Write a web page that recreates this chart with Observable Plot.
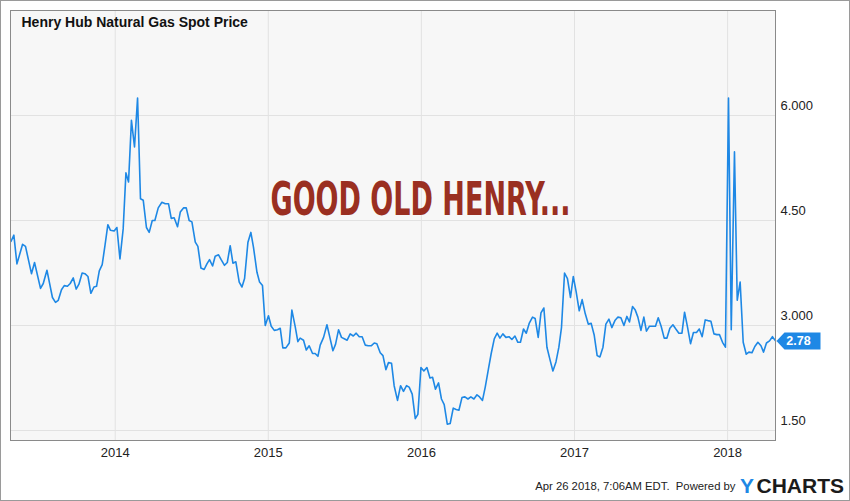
<!DOCTYPE html>
<html>
<head>
<meta charset="utf-8">
<script src="https://cdn.jsdelivr.net/npm/d3@7"></script>
<script src="https://cdn.jsdelivr.net/npm/@observablehq/plot@0.6"></script>
<style>
  html, body { margin: 0; padding: 0; background: #fff; }
  #wrap { position: relative; width: 850px; height: 501px; overflow: hidden; }
  #border { position: absolute; left: 0; top: 0; width: 850px; height: 501px; box-sizing: border-box; border: 1px solid #9a9a9a; pointer-events: none; }
</style>
</head>
<body>
<div id="wrap"><div id="border"></div></div>
<script>
const years = [
  2013.319, 2013.338, 2013.358, 2013.395, 2013.414, 2013.453, 2013.473, 2013.512, 2013.530, 2013.554,
  2013.590, 2013.610, 2013.628, 2013.649, 2013.667, 2013.688, 2013.706, 2013.726, 2013.745, 2013.763,
  2013.784, 2013.802, 2013.822, 2013.841, 2013.861, 2013.878, 2013.896, 2013.915, 2013.933, 2013.952,
  2013.969, 2013.993, 2014.011, 2014.031, 2014.052, 2014.070, 2014.087, 2014.106, 2014.126, 2014.146,
  2014.165, 2014.183, 2014.204, 2014.222, 2014.242, 2014.259, 2014.281, 2014.305,
  2014.327, 2014.348, 2014.366, 2014.385, 2014.407, 2014.425, 2014.446, 2014.464, 2014.483, 2014.501,
  2014.523, 2014.540, 2014.560, 2014.581, 2014.599, 2014.616, 2014.636, 2014.653, 2014.675, 2014.692,
  2014.714, 2014.732, 2014.751, 2014.769, 2014.788, 2014.810, 2014.828, 2014.845, 2014.867, 2014.886,
  2014.903, 2014.926, 2014.943, 2014.962, 2014.980, 2015.001, 2015.019, 2015.039, 2015.060, 2015.078,
  2015.095, 2015.115, 2015.137, 2015.154, 2015.176, 2015.193, 2015.208, 2015.230, 2015.248, 2015.267,
  2015.289, 2015.306, 2015.324,
  2015.339, 2015.361, 2015.383, 2015.402, 2015.422, 2015.439, 2015.459, 2015.478, 2015.496, 2015.515,
  2015.535, 2015.555, 2015.574, 2015.594, 2015.613, 2015.633, 2015.653, 2015.672, 2015.692, 2015.709,
  2015.731, 2015.749, 2015.768, 2015.785, 2015.805, 2015.822, 2015.844, 2015.864, 2015.883, 2015.903,
  2015.920, 2015.940, 2015.960, 2015.977, 2015.997, 2016.016, 2016.036, 2016.056, 2016.073, 2016.092,
  2016.112, 2016.131, 2016.149, 2016.169, 2016.188, 2016.208, 2016.227, 2016.245, 2016.265, 2016.284,
  2016.304, 2016.323, 2016.343, 2016.363, 2016.380, 2016.399,
  2016.417, 2016.438, 2016.456, 2016.476, 2016.495, 2016.513, 2016.532, 2016.552, 2016.572, 2016.591,
  2016.611, 2016.630, 2016.647, 2016.667, 2016.685, 2016.704, 2016.726, 2016.743, 2016.763, 2016.781,
  2016.800, 2016.820, 2016.839, 2016.859, 2016.879, 2016.898, 2016.915, 2016.935, 2016.954, 2016.974,
  2016.992, 2017.011, 2017.031, 2017.050, 2017.070, 2017.090, 2017.109, 2017.129, 2017.148, 2017.166,
  2017.186, 2017.205, 2017.225, 2017.244, 2017.264, 2017.284, 2017.303, 2017.323, 2017.342, 2017.359,
  2017.379, 2017.397, 2017.414, 2017.434, 2017.453, 2017.470, 2017.490, 2017.510, 2017.529, 2017.547,
  2017.566, 2017.586, 2017.604, 2017.623, 2017.643, 2017.662, 2017.682, 2017.702, 2017.719, 2017.738,
  2017.758, 2017.777, 2017.797, 2017.815, 2017.834, 2017.854, 2017.871, 2017.891, 2017.911, 2017.930,
  2017.947, 2017.967, 2017.986, 2018.006, 2018.024, 2018.045, 2018.063, 2018.082, 2018.102, 2018.122,
  2018.139, 2018.159, 2018.178, 2018.198, 2018.218, 2018.235, 2018.254, 2018.274, 2018.293, 2018.313
];

// Henry Hub spot price, USD/MMBtu
const prices = [
  4.20, 4.29, 3.88, 4.16, 4.13, 3.74, 3.90, 3.53, 3.60, 3.79,
  3.40, 3.33, 3.36, 3.51, 3.57, 3.56, 3.60, 3.68, 3.52, 3.59,
  3.75, 3.74, 3.70, 3.46, 3.55, 3.56, 3.78, 3.87, 4.14, 4.44,
  4.36, 4.35, 4.40, 3.95, 4.38, 5.18, 5.05, 5.93, 5.55, 6.25,
  4.81, 4.79, 4.40, 4.33, 4.50, 4.50, 4.68, 4.76,
  4.74, 4.74, 4.53, 4.54, 4.41, 4.62, 4.68, 4.68, 4.50, 4.48,
  4.19, 4.13, 3.82, 3.80, 3.88, 3.94, 3.85, 3.99, 4.01, 3.94,
  3.86, 3.90, 4.14, 3.89, 3.91, 3.62, 3.55, 3.67, 4.19, 4.33,
  4.12, 3.76, 3.62, 3.57, 3.00, 3.14, 2.99, 2.93, 2.94, 2.96,
  2.68, 2.68, 2.75, 3.22, 2.98, 2.77, 2.82, 2.79, 2.65, 2.71,
  2.60, 2.60, 2.56,
  2.72, 2.83, 3.01, 2.83, 2.64, 2.73, 2.94, 2.83, 2.81, 2.79,
  2.88, 2.85, 2.89, 2.84, 2.84, 2.72, 2.71, 2.71, 2.75, 2.74,
  2.61, 2.57, 2.37, 2.47, 2.46, 2.14, 1.93, 2.14, 2.06, 2.14,
  2.12, 2.02, 1.67, 1.73, 2.40, 2.35, 2.40, 2.25, 2.26, 2.09,
  2.18, 1.95, 1.87, 1.59, 1.60, 1.82, 1.80, 1.79, 1.97, 1.98,
  1.95, 1.98, 1.95, 2.01, 1.98, 1.93,
  2.12, 2.38, 2.60, 2.81, 2.89, 2.82, 2.88, 2.83, 2.84, 2.80,
  2.85, 2.76, 2.76, 2.95, 2.89, 3.03, 3.12, 3.10, 2.83, 3.18,
  3.25, 2.69, 2.52, 2.35, 2.48, 2.69, 2.97, 3.75, 3.67, 3.40,
  3.70, 3.48, 3.21, 3.37, 3.17, 3.02, 3.03, 2.86, 2.57, 2.55,
  2.69, 3.02, 3.09, 2.97, 3.07, 3.12, 3.11, 3.00, 3.13, 3.05,
  3.27, 3.22, 3.12, 2.93, 3.12, 2.92, 2.99, 2.99, 2.99, 3.11,
  2.99, 2.82, 2.82, 2.96, 3.01, 2.95, 2.89, 2.89, 3.19, 2.98,
  2.74, 2.90, 2.90, 2.95, 2.84, 3.08, 3.07, 3.06, 2.88, 2.87,
  2.87, 2.76, 2.69, 6.25, 2.94, 5.48, 3.36, 3.62, 2.76, 2.59,
  2.62, 2.61, 2.70, 2.76, 2.71, 2.62, 2.75, 2.78, 2.84, 2.78
];

const xTicks = [2014, 2015, 2016, 2017, 2018];
const yTicks = [6, 4.5, 3, 1.5];
const yTickLabels = ["6.000", "4.50", "3.000", "1.50"];

const titleText = "Henry Hub Natural Gas Spot Price";
const annotationText = "GOOD OLD HENRY...";
const footerText = "Apr 26 2018, 7:06AM EDT.  Powered by";
const logoParts = ["Y", "CHARTS"];

const data = years.map((t, i) => ({t, v: prices[i]}));
const last = data[data.length - 1];

const BLUE = "#1e88e5";

// arrow-shaped last-value tag
const tagSymbol = {
  draw(ctx) {
    ctx.moveTo(1, 0);
    ctx.lineTo(9, -8.5);
    ctx.lineTo(45, -8.5);
    ctx.lineTo(45, 8.5);
    ctx.lineTo(9, 8.5);
    ctx.closePath();
  }
};

const chart = Plot.plot({
  width: 850,
  height: 501,
  marginLeft: 10,
  marginRight: 75,
  marginTop: 10,
  marginBottom: 61,
  style: {fontFamily: "'Liberation Sans', Arial, sans-serif", background: "transparent", color: "#222"},
  x: {domain: [2013.316, 2018.313]},
  y: {domain: [1.3571, 7.5]},
  marks: [
    Plot.frame({fill: "#f7f7f7", stroke: null}),
    Plot.gridX(xTicks, {stroke: "#e2e2e2", strokeOpacity: 1}),
    Plot.gridY(yTicks, {stroke: "#e2e2e2", strokeOpacity: 1}),
    Plot.axisX({ticks: xTicks, tickFormat: "d", tickSize: 0, tickPadding: 7, fontSize: 13, label: null}),
    Plot.axisY({anchor: "right", ticks: yTicks, tickFormat: d => yTickLabels[yTicks.indexOf(d)],
      tickSize: 0, tickPadding: 5, dy: -10, fontSize: 13, label: null}),
    Plot.line(data, {x: "t", y: "v", stroke: BLUE, strokeWidth: 1.6, strokeLinejoin: "round"}),
    Plot.frame({stroke: "#8a8a8a"}),
    Plot.dot([last], {x: "t", y: "v", symbol: tagSymbol, fill: BLUE, stroke: null}),
    Plot.text([last], {x: "t", y: "v", text: d => d.v.toFixed(2), dx: 23, fill: "#fff",
      fontWeight: "bold", fontSize: 12.5, textAnchor: "middle"}),
    Plot.text([titleText], {frameAnchor: "top-left", dx: 11, dy: 7, textAnchor: "start", lineAnchor: "top",
      fontWeight: "bold", fontSize: 14, fill: "#111"}),
    Plot.text([annotationText], {frameAnchor: "top-left", dx: 260, dy: 189, textAnchor: "start",
      lineAnchor: "middle", fontWeight: "bold", fontSize: 47, fill: "#9a2f21",
      fontFamily: "'Liberation Sans Narrow', 'DejaVu Sans Condensed', 'Liberation Sans', sans-serif",
      className: "anno"}),
    Plot.text([footerText], {frameAnchor: "bottom-right", dx: -40, dy: 49, textAnchor: "end",
      lineAnchor: "bottom", fontSize: 11.3, fill: "#222", letterSpacing: -0.2}),
    Plot.text([logoParts[0]], {frameAnchor: "bottom-right", dx: -35.5, dy: 52, textAnchor: "start",
      lineAnchor: "bottom", fontSize: 21, fontWeight: "bold", fill: BLUE}),
    Plot.text([logoParts[1]], {frameAnchor: "bottom-right", dx: -19, dy: 52, textAnchor: "start",
      lineAnchor: "bottom", fontSize: 21, fontWeight: "bold", fill: "#1b1b1b"})
  ]
});

const svg = d3.select(chart);
svg.select(".anno text").attr("textLength", 300).attr("lengthAdjust", "spacingAndGlyphs");

document.getElementById("wrap").insertBefore(chart, document.getElementById("border"));
</script>
</body>
</html>
